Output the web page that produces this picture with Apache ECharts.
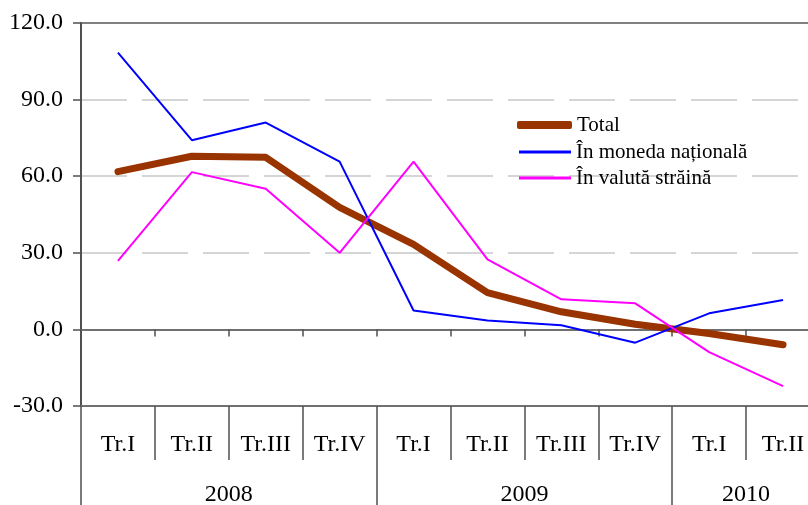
<!DOCTYPE html>
<html><head><meta charset="utf-8">
<script src="https://cdn.jsdelivr.net/npm/echarts@6/dist/echarts.min.js"></script>
<style>html,body{margin:0;padding:0;background:#fff}#c{width:808px;height:505px}</style>
</head><body><div id="c"></div>
<script>
const quarters = ['Tr.I','Tr.II','Tr.III','Tr.IV','Tr.I','Tr.II','Tr.III','Tr.IV','Tr.I','Tr.II'];
const years = ['2008','2009','2010'];
const yearBounds = [0,4,8,10];
const yearCenters = [2,6,9];
const total = [61.8,67.8,67.4,47.8,33.3,14.4,6.9,2.0,-1.6,-6.0];
const national = [108.4,74.1,81.0,65.7,7.4,3.5,1.6,-5.2,6.3,11.5];
const foreign = [26.8,61.6,55.1,30.0,65.7,27.4,11.8,10.2,-8.9,-22.2];
const seriesNames = ['Total','În moneda națională','În valută străină'];

const font = 'Liberation Serif';
const fs = 24;
const legendText = {fontFamily:font,fontSize:21,lineHeight:21,color:'#000'};
const chart = echarts.init(document.getElementById('c'));
chart.setOption({
  animation:false,
  grid:{left:81,top:23,width:739,bottom:99,outerBoundsMode:'none',show:true,borderColor:'#808080',borderWidth:2,backgroundColor:'transparent'},
  legend:[
    {orient:'vertical',left:517,top:114.5,padding:0,itemWidth:55,itemHeight:8,icon:'roundRect',
      textStyle:legendText,data:[seriesNames[0]]},
    {orient:'vertical',left:519,top:141.5,padding:0,itemWidth:52,itemHeight:3,icon:'rect',
      textStyle:legendText,data:[seriesNames[1]]},
    {orient:'vertical',left:519,top:167.5,padding:0,itemWidth:52,itemHeight:3,icon:'rect',
      textStyle:legendText,data:[seriesNames[2]]}
  ],
  xAxis:[
    {type:'category',data:quarters,position:'bottom',boundaryGap:true,
      axisLine:{onZero:true,lineStyle:{color:'#707070',width:2}},
      axisTick:{show:true,length:7,lineStyle:{color:'#505050',width:1.5}},
      axisLabel:{show:false},splitLine:{show:false}},
    {type:'category',data:quarters,position:'bottom',boundaryGap:true,gridIndex:0,
      axisLine:{onZero:false,lineStyle:{color:'#707070',width:2}},
      axisTick:{show:true,length:54,lineStyle:{color:'#505050',width:1.5}},
      axisLabel:{margin:27,fontFamily:font,fontSize:fs,color:'#000'},splitLine:{show:false}},
    {type:'value',min:0,max:10,position:'bottom',gridIndex:0,
      axisLine:{show:false,onZero:false},
      axisTick:{show:true,length:99,customValues:yearBounds,lineStyle:{color:'#505050',width:1.5}},
      axisLabel:{margin:77,fontFamily:font,fontSize:fs,color:'#000',customValues:yearCenters,
        formatter:v=>years[yearCenters.indexOf(v)]},
      splitLine:{show:false}}
  ],
  yAxis:{type:'value',min:-30,max:120,interval:30,
    axisLine:{show:true,lineStyle:{color:'#505050',width:2}},
    axisTick:{show:true,length:8,lineStyle:{color:'#505050',width:1.5}},
    axisLabel:{margin:18,padding:[5,0,0,0],fontFamily:font,fontSize:fs,color:'#000',formatter:v=>v.toFixed(1)},
    splitLine:{show:true,lineStyle:{color:'#C8C8C8',width:1.5,type:[46,15]},
      showMinLine:false,showMaxLine:false}},
  series:[
    {name:seriesNames[0],type:'line',data:total,symbol:'none',z:3,
      lineStyle:{color:'#993300',width:7,cap:'round',join:'round'},itemStyle:{color:'#993300'}},
    {name:seriesNames[1],type:'line',data:national,symbol:'none',z:4,
      lineStyle:{color:'#0000FF',width:2},itemStyle:{color:'#0000FF'}},
    {name:seriesNames[2],type:'line',data:foreign,symbol:'none',z:4,
      lineStyle:{color:'#FF00FF',width:2},itemStyle:{color:'#FF00FF'}}
  ]
});
</script></body></html>
